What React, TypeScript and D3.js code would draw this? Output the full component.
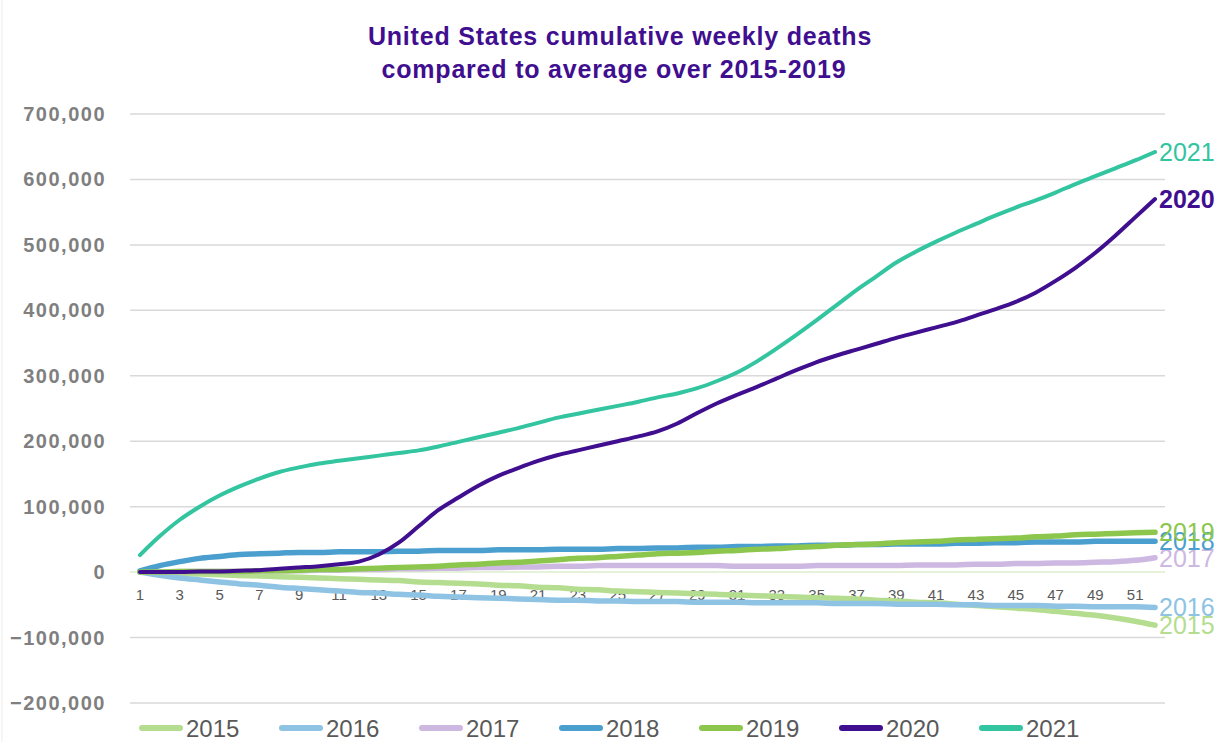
import React, { useEffect, useRef } from 'react'
import * as d3 from 'd3'

// cumulative weekly deaths vs 2015-2019 average, thousands
const weeks = d3.range(1, 53)
const years = ['2015', '2016', '2017', '2018', '2019', '2020', '2021']
const colors = ['#b5dd8f', '#8ec3e3', '#cdb8e2', '#4b9fce', '#8cc64d', '#3f0f8f', '#33c4a0']
const yTicks = [-200000, -100000, 0, 100000, 200000, 300000, 400000, 500000, 600000, 700000]

const s2015 = [0, -1, -2, -3, -4, -5, -6, -7, -8, -9, -10, -11, -12, -13, -15, -16, -17, -18, -20, -21, -23, -24, -26, -27, -29, -30, -31, -32, -33, -34, -35, -36, -37, -38, -39, -40, -41, -43, -44, -46, -47, -49, -51, -53, -55, -57, -60, -63, -66, -70, -75, -81]
const s2016 = [0, -5, -9, -12, -15, -18, -20, -23, -25, -27, -29, -31, -32, -34, -35, -37, -38, -39, -40, -41, -42, -43, -43, -44, -44, -45, -45, -45, -46, -46, -46, -47, -47, -47, -47, -48, -48, -48, -49, -49, -49, -50, -50, -51, -51, -51, -52, -52, -53, -53, -53, -54]
const s2017 = [0, 0, 1, 1, 1, 1, 2, 2, 2, 3, 3, 4, 4, 5, 5, 6, 6, 7, 7, 8, 8, 9, 9, 10, 10, 10, 10, 10, 10, 10, 9, 9, 9, 9, 10, 10, 10, 10, 10, 11, 11, 11, 12, 12, 13, 13, 14, 14, 15, 16, 18, 22]
const s2018 = [2, 10, 16, 21, 24, 27, 28, 29, 30, 30, 31, 31, 31, 32, 32, 33, 33, 33, 34, 34, 34, 35, 35, 35, 36, 36, 37, 37, 38, 38, 39, 39, 40, 40, 41, 41, 42, 42, 43, 43, 43, 44, 44, 45, 45, 46, 46, 46, 47, 47, 47, 47]
const s2019 = [0, 0, 1, 1, 1, 1, 2, 2, 3, 4, 4, 5, 6, 7, 8, 9, 11, 12, 14, 15, 17, 19, 21, 22, 24, 26, 28, 29, 30, 32, 33, 35, 36, 38, 39, 41, 42, 43, 45, 46, 47, 49, 50, 51, 52, 54, 55, 57, 58, 59, 60, 61]
const s2020 = [0, 0, 0, 1, 1, 2, 3, 5, 7, 9, 12, 16, 27, 45, 70, 95, 114, 132, 147, 159, 170, 179, 186, 193, 200, 207, 215, 227, 243, 258, 271, 283, 296, 309, 321, 331, 340, 349, 358, 366, 374, 382, 392, 402, 413, 427, 445, 465, 488, 514, 542, 570]
const s2021 = [26, 55, 80, 100, 117, 131, 143, 153, 160, 166, 170, 174, 178, 182, 186, 192, 199, 206, 213, 220, 228, 236, 242, 248, 254, 260, 267, 273, 281, 292, 305, 322, 342, 363, 385, 408, 431, 452, 473, 490, 505, 519, 532, 545, 557, 568, 580, 593, 605, 617, 629, 642]

const seriesValues = [s2015, s2016, s2017, s2018, s2019, s2020, s2021]

const App = () => {
  const ref = useRef(null)

  useEffect(() => {
    const svg = d3.select(ref.current)
    svg.selectAll('*').remove()
    const font = 'Liberation Sans, Arial, sans-serif'

    const x = d3.scalePoint().domain(weeks.map(String)).range([130, 1165]).padding(0.5)
    const y = d3.scaleLinear().domain([-200000, 700000]).range([703, 114])

    // faint frame edge on the left
    svg.append('line').attr('x1', 2).attr('x2', 2).attr('y1', 0).attr('y2', 742)
      .attr('stroke', '#ececec').attr('stroke-width', 1)

    // title
    const title = svg.append('text').attr('text-anchor', 'middle').attr('font-family', font)
      .attr('font-weight', 'bold').attr('font-size', 25).attr('letter-spacing', 0.8).attr('fill', '#3f0f8f')
    title.append('tspan').attr('x', 620).attr('y', 45).text('United States cumulative weekly deaths')
    title.append('tspan').attr('x', 614).attr('y', 78).text('compared to average over 2015-2019')

    // grid
    svg.append('g').selectAll('line').data(yTicks).enter().append('line')
      .attr('x1', 130).attr('x2', 1165)
      .attr('y1', (d) => y(d)).attr('y2', (d) => y(d))
      .attr('stroke', (d) => (d === 0 ? '#dcedcb' : '#d9d9d9'))
      .attr('stroke-width', 1.5)

    // y axis labels
    svg.append('g').selectAll('text').data(yTicks).enter().append('text')
      .attr('x', 106).attr('y', (d) => y(d) + 7)
      .attr('text-anchor', 'end').attr('font-family', font).attr('font-weight', 'bold')
      .attr('font-size', 20).attr('letter-spacing', 1.5).attr('fill', '#7f7f7f')
      .text((d) => d3.format(',')(d))

    // x axis labels, every other week
    svg.append('g').selectAll('text').data(weeks.filter((w) => w % 2 === 1)).enter().append('text')
      .attr('x', (d) => x(String(d)))
      .attr('y', 600)
      .attr('text-anchor', 'middle').attr('font-family', font)
      .attr('font-size', 15).attr('fill', '#595959')
      .text((d) => d)

    const line = d3.line()
      .x((d, i) => x(String(weeks[i])))
      .y((d) => y(d * 1000))
      .curve(d3.curveMonotoneX)

    seriesValues.forEach((vals, i) => {
      const big = i >= 5
      svg.append('path')
        .datum(vals)
        .attr('d', line)
        .attr('fill', 'none')
        .attr('stroke', colors[i])
        .attr('stroke-width', big ? 4 : 5.5)
        .attr('stroke-linecap', 'round')
        .attr('stroke-linejoin', 'round')
    })

    // end labels
    seriesValues.forEach((vals, i) => {
      const last = vals[vals.length - 1]
      svg.append('text')
        .attr('x', x(String(weeks[weeks.length - 1])) + 4)
        .attr('y', y(last * 1000) + 9)
        .attr('font-family', font)
        .attr('font-size', 25)
        .attr('font-weight', years[i] === '2020' ? 'bold' : 'normal')
        .attr('fill', colors[i])
        .text(years[i])
    })

    // legend
    const leg = svg.append('g').selectAll('g').data(years).enter().append('g')
      .attr('transform', (d, i) => `translate(${142 + i * 140},728)`)
    leg.append('line').attr('x1', 0).attr('x2', 38).attr('y1', 0).attr('y2', 0)
      .attr('stroke', (d, i) => colors[i]).attr('stroke-width', 6).attr('stroke-linecap', 'round')
    leg.append('text').attr('x', 44).attr('y', 9)
      .attr('font-family', font).attr('font-size', 24).attr('fill', '#595959')
      .text((d) => d)
  }, [])

  return (
    <div style={{ position: 'absolute', left: 0, top: 0 }}>
      <svg ref={ref} width={1227} height={742} style={{ display: 'block', background: '#fff' }}></svg>
    </div>
  )
}

export default App
